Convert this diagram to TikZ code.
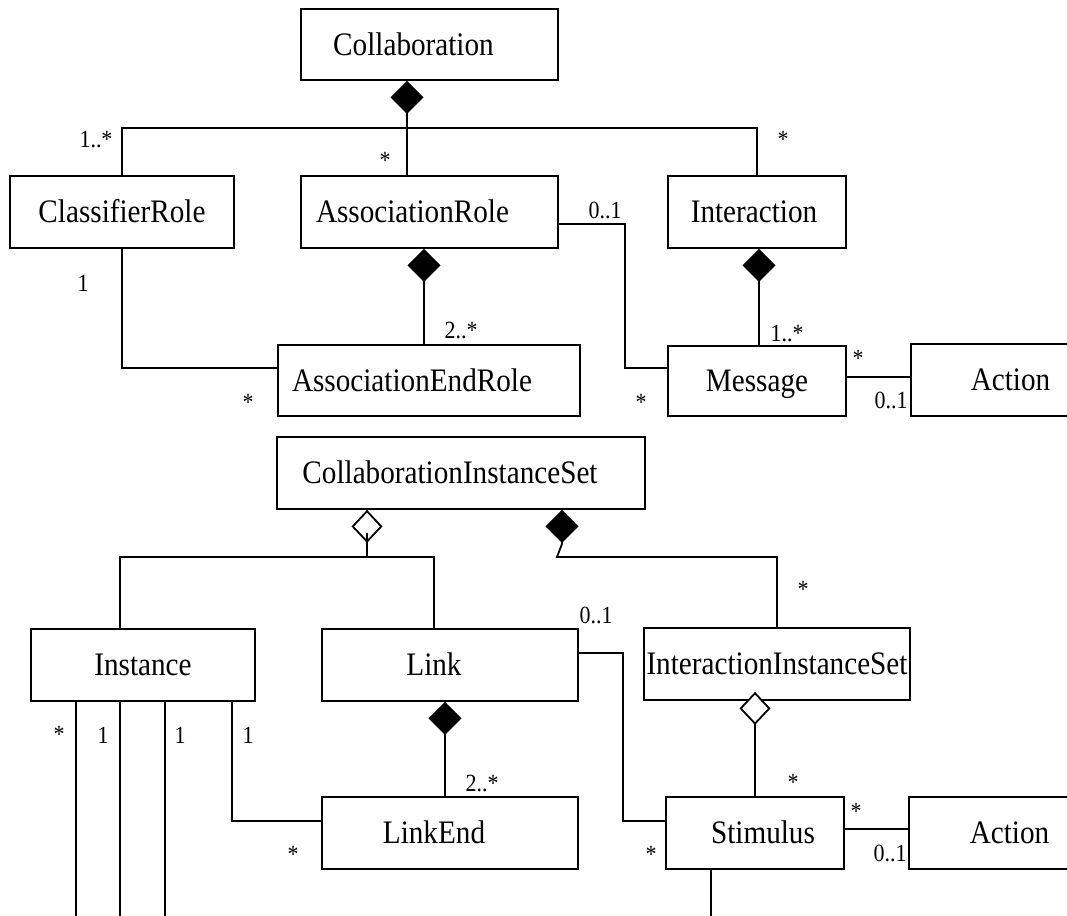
\documentclass[tikz,border=0pt]{standalone}
\usepackage{fontspec}
\setmainfont{Liberation Serif}
\newfontfamily\umlfont[FakeStretch=0.89]{Liberation Serif}
\usetikzlibrary{arrows.meta}
\begin{document}
\begin{tikzpicture}[x=1pt,y=-1pt,line width=1.8pt,
  cls/.style={draw, line width=1.8pt, inner sep=0pt, minimum height=72pt,
    text height=21.5pt, text depth=0pt, font=\umlfont\fontsize{32.8}{38}\selectfont},
  lab/.style={inner sep=0pt, anchor=base, font=\umlfont\fontsize{24.7}{29}\selectfont},
  comp/.style={arrows={Diamond[length=33pt,width=33pt]-}},
  agg/.style={arrows={Diamond[open,length=33pt,width=31pt,fill=white]-}}]
\useasboundingbox (0,0) rectangle (1067,915);
% classes
\node[cls, minimum width=257pt, minimum height=71pt] (collab) at (429.5,44.5) {\hspace*{-32pt}Collaboration};
\node[cls, minimum width=224pt] (clrole) at (122,212) {ClassifierRole};
\node[cls, minimum width=257pt] (assocrole) at (429.5,212) {\hspace*{-34pt}AssociationRole};
\node[cls, minimum width=178pt] (interaction) at (757,212) {\hspace*{-6pt}Interaction};
\node[cls, minimum width=302pt, minimum height=71pt] (aer) at (429,380.5) {\hspace*{-34pt}AssociationEndRole};
\node[cls, minimum width=178pt, minimum height=70pt] (message) at (757,381) {Message};
\node[cls, minimum width=199pt] (action1) at (1010.5,380) {Action};
\node[cls, minimum width=368pt] (cis) at (461,473) {\hspace*{-22pt}CollaborationInstanceSet};
\node[cls, minimum width=224pt] (instance) at (143,665) {Instance};
\node[cls, minimum width=256pt] (link) at (450,665) {\hspace*{-32pt}Link};
\node[cls, minimum width=266pt] (iis) at (777,664) {InteractionInstanceSet};
\node[cls, minimum width=256pt] (linkend) at (450,833) {\hspace*{-32pt}LinkEnd};
\node[cls, minimum width=178pt] (stimulus) at (755,833) {\hspace*{16pt}Stimulus};
\node[cls, minimum width=201pt] (action2) at (1009.5,833) {Action};
% top connectors
\coordinate (j1) at (407,128);
\draw[comp] (collab.south -| j1) -- (assocrole.north -| j1);
\draw (clrole.north) |- (j1) -| (interaction.north);
\draw[comp] ([xshift=-5.5pt]assocrole.south) -- ([xshift=-5.5pt]assocrole.south |- aer.north);
\draw (clrole.south) |- ([yshift=12.5pt]aer.west);
\draw ([yshift=-12pt]assocrole.east) -- ++(66,0) |- ([yshift=13pt]message.west);
\draw[comp] ([xshift=2pt]interaction.south) -- ([xshift=2pt]message.north);
\draw ([yshift=4pt]message.east) -- ([yshift=4pt]message.east -| action1.west);
% bottom connectors
\coordinate (j2) at (367,557);
\draw[agg] (cis.south -| j2) -- (j2);
\draw ([yshift=-23pt]cis.south -| j2) -- ++(0,10);
\draw ([xshift=-23pt]instance.north) |- (j2) -| ([xshift=-16pt]link.north);
\draw[comp] ([xshift=101pt]cis.south) -- ++(0,34) -- (557,557) -| (iis.north);
\draw ([yshift=12pt]link.east) -- ++(44,0) |- ([yshift=12pt]stimulus.west);
\draw[comp] ([xshift=-5pt]link.south) -- ([xshift=-5pt]link.south |- linkend.north);
\draw ([xshift=89pt]instance.south) |- ([yshift=12pt]linkend.west);
\draw ([xshift=-67pt]instance.south) -- ++(0,220);
\draw ([xshift=-23pt]instance.south) -- ++(0,220);
\draw ([xshift=22pt]instance.south) -- ++(0,220);
\draw[agg] ([xshift=-22pt,yshift=9pt]iis.south) -- (stimulus.north);
\draw ([yshift=4pt]stimulus.east) -- ([yshift=4pt]stimulus.east -| action2.west);
\draw ([xshift=-44pt]stimulus.south) -- ++(0,60);
% multiplicities
\node[lab] (m1) at (96,147) {1..*};
\node[lab] (m2) at (385,168) {*};
\node[lab] (m3) at (783,147) {*};
\node[lab] (m4) at (83,291) {1};
\node[lab] (m5) at (461,338) {2..*};
\node[lab] (m6) at (248,410) {*};
\node[lab] (m7) at (605,218) {0..1};
\node[lab] (m8) at (641,410) {*};
\node[lab] (m9) at (787,341) {1..*};
\node[lab] (m10) at (858,366) {*};
\node[lab] (m11) at (891,408) {0..1};
\node[lab] (n1) at (59,742) {*};
\node[lab] (n2) at (103,743) {1};
\node[lab] (n3) at (180,743) {1};
\node[lab] (n4) at (248,743) {1};
\node[lab] (n5) at (482,791) {2..*};
\node[lab] (n6) at (293,862) {*};
\node[lab] (n7) at (803,597) {*};
\node[lab] (n8) at (596,623) {0..1};
\node[lab] (n9) at (793,790) {*};
\node[lab] (n10) at (651,862) {*};
\node[lab] (n11) at (856,819) {*};
\node[lab] (n12) at (890,861) {0..1};
\end{tikzpicture}
\end{document}
